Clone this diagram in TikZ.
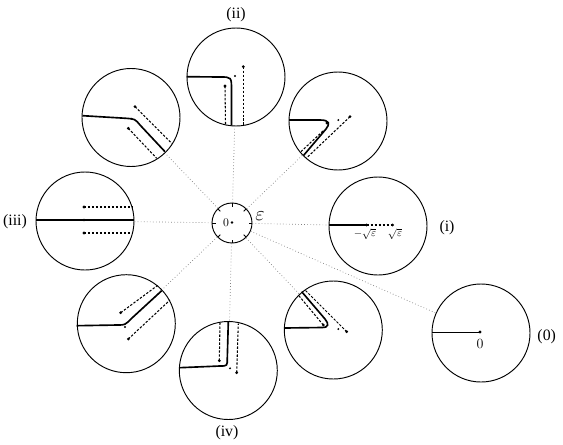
\documentclass[tikz,border=0pt]{standalone}
\usepackage{amsmath,amssymb}
\usepackage{fontspec}
\setmainfont{Liberation Serif}
\usepackage{tikz}
\usepackage{xcolor}

\begin{document}
\begin{tikzpicture}[x=0.03cm,y=-0.03cm,every node/.style={font=\fontsize{13.5}{16}\selectfont},
  disc/.style={circle,draw,line width=0.8pt,minimum size=2.94cm,inner sep=0pt},
  hub/.style={circle,draw,line width=0.8pt,minimum size=1.2cm,inner sep=0pt},
  link/.style={dotted,gray,line width=0.6pt},
  cut/.style={line width=1.4pt},
  trail/.style={dash pattern=on 2pt off 1.4pt,line width=0.9pt},
  bp/.style={fill=black}]
\useasboundingbox (0,0) rectangle (563,444);
\node[hub] (cen) at (232,223) {};
\node[disc] (ci) at (378,226) {};
\node[disc] (cne) at (338,121) {};
\node[disc] (cii) at (236,77) {};
\node[disc] (cnw) at (131,117.5) {};
\node[disc] (ciii) at (85,221) {};
\node[disc] (csw) at (126.3,323.7) {};
\node[disc] (civ) at (228.3,370.5) {};
\node[disc] (cse) at (333.3,330) {};
\node[disc] (czero) at (481,333) {};
\draw[link] (cen) -- (ci);
\draw[link] (cen) -- (cne);
\draw[link] (cen) -- (cii);
\draw[link] (cen) -- (cnw);
\draw[link] (cen) -- (ciii);
\draw[link] (cen) -- (csw);
\draw[link] (cen) -- (civ);
\draw[link] (cen) -- (cse);
\draw[link] (cen) -- (czero);
\draw[line width=0.8pt] (252,223) -- (248.5,223);
\draw[line width=0.8pt] (232,203) -- (232,206.5);
\draw[line width=0.8pt] (212,223) -- (215.5,223);
\draw[line width=0.8pt] (232,243) -- (232,239.5);
\draw[line width=0.8pt] (246.1,208.9) -- (243.7,211.3);
\draw[line width=0.8pt] (217.9,208.9) -- (220.3,211.3);
\draw[line width=0.8pt] (217.9,237.1) -- (220.3,234.7);
\draw[line width=0.8pt] (246.1,237.1) -- (243.7,234.7);
\fill[bp] (232,222.5) circle (1.2pt);
\node[font=\normalsize] (zc) at (226,222.5) {$0$};
\node[font=\LARGE] (eps) at (260,216) {$\varepsilon$};
\draw[cut] (329,225) -- (366.7,225);
\draw[trail] (366.7,225) -- (392.7,225);
\fill[bp] (366.7,225) circle (1.3pt);
\fill[bp] (392.7,225) circle (1.3pt);
\fill[bp] (380,225) circle (0.9pt);
\node[font=\small] (mroot) at (365,234) {$-\sqrt{\varepsilon}$};
\node[font=\small] (proot) at (395,234) {$\sqrt{\varepsilon}$};
\draw[cut] (289,120) -- (320,120) .. controls (330,120) and (330,124) .. (326,129) -- (303.5,155.5);
\draw[trail] (323,131) -- (300,152.5);
\draw[trail] (350,116.7) -- (306.5,158);
\fill[bp] (327,123) circle (1.3pt);
\fill[bp] (350,116.7) circle (1.3pt);
\fill[bp] (338.3,120) circle (0.9pt);
\draw[cut] (186.7,76.7) -- (220,77) .. controls (231.5,77) .. (231.5,90) -- (231.5,125.5);
\draw[trail] (225,86) -- (225.5,124.5);
\draw[trail] (243.3,66.7) -- (243.3,125);
\fill[bp] (225,86) circle (1.3pt);
\fill[bp] (243.3,66.7) circle (1.3pt);
\fill[bp] (235,76) circle (0.9pt);
\draw[cut] (82.7,115.7) -- (126,118.3) .. controls (135,119) .. (140,125) -- (165,151.7);
\draw[trail] (135,106.7) -- (171.7,143.3);
\draw[trail] (128.3,128.3) -- (156.7,158.3);
\fill[bp] (135,106.7) circle (1.3pt);
\fill[bp] (128.3,128.3) circle (1.3pt);
\fill[bp] (131.7,118.8) circle (0.9pt);
\draw[cut] (36,220) -- (134,220);
\draw[trail] (84,207) -- (132.5,207);
\draw[trail] (84,233) -- (132.5,233);
\fill[bp] (84,220) circle (1.1pt);
\fill[bp] (84,207) circle (1.3pt);
\fill[bp] (84,233) circle (1.3pt);
\draw[cut] (76.7,325.7) -- (118,325) .. controls (125,325) .. (132,318) -- (161.7,290.7);
\draw[trail] (120.7,312.7) -- (157.5,285.5);
\draw[trail] (128.3,339) -- (170,300);
\fill[bp] (120.7,312.7) circle (1.3pt);
\fill[bp] (128.3,339) circle (1.3pt);
\fill[bp] (125,327) circle (0.9pt);
\draw[cut] (179.5,367.7) -- (220,366) .. controls (227.3,366) .. (227.3,358) -- (228.3,321.5);
\draw[trail] (219.3,360.7) -- (220,322.5);
\draw[trail] (236.7,372.7) -- (238.3,323.5);
\fill[bp] (219.3,360.7) circle (1.3pt);
\fill[bp] (236.7,372.7) circle (1.3pt);
\fill[bp] (230,368.3) circle (0.9pt);
\draw[cut] (285,328) -- (322,327.5) .. controls (329,327.5) and (329,324) .. (325,319) -- (301.7,291.7);
\draw[trail] (323.3,325) -- (298.3,295);
\draw[trail] (346.7,331.7) -- (305.5,290.5);
\fill[bp] (323.3,325) circle (1.3pt);
\fill[bp] (346.7,331.7) circle (1.3pt);
\fill[bp] (338.3,329) circle (0.9pt);
\draw[line width=0.8pt] (432,332) -- (480,332);
\fill[bp] (480,332) circle (1.3pt);
\node[font=\large] (origin) at (480,344) {$0$};
\node (li) at (447,228) {(i)};
\node (lii) at (236,15) {(ii)};
\node (liii) at (15,222) {(iii)};
\node (liv) at (227,433) {(iv)};
\node (lzero) at (546.7,336.7) {(0)};
\end{tikzpicture}
\end{document}
